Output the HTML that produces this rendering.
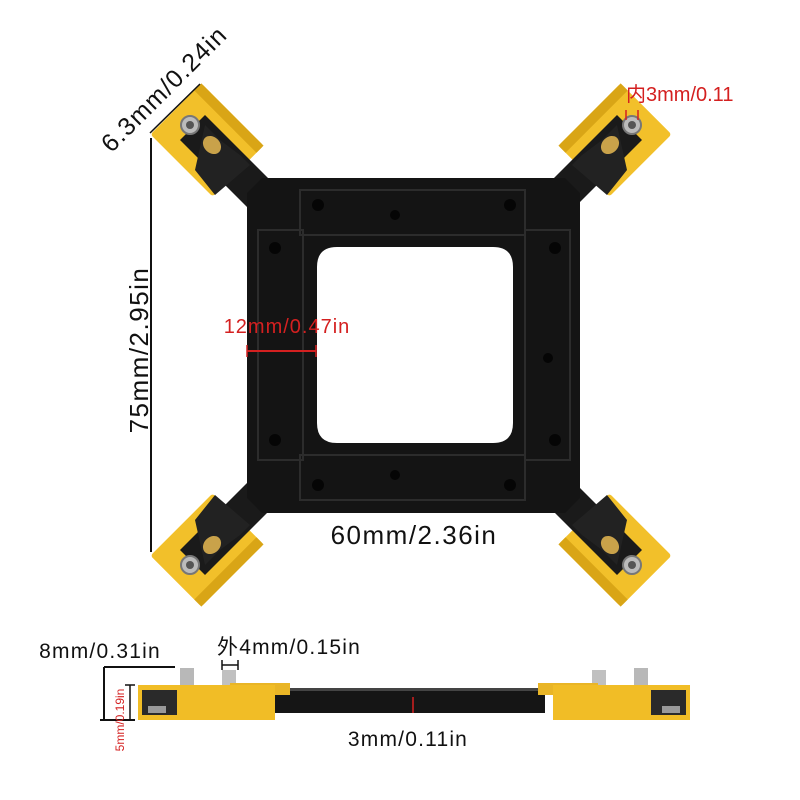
<!DOCTYPE html>
<html><head><meta charset="utf-8"><style>
html,body{margin:0;padding:0;background:#fff;}
svg{display:block}
text{font-family:"Liberation Sans","Noto Sans CJK SC",sans-serif;}
</style></head><body>
<svg width="800" height="800" viewBox="0 0 800 800" xmlns="http://www.w3.org/2000/svg">
<defs>
<g id="corner">
  <rect x="163" y="104" width="88" height="72" rx="3" fill="#f2c02a" transform="rotate(45 207 140)"/>
  <rect x="163" y="104" width="88" height="10" fill="#d9a516" transform="rotate(45 207 140)"/>
  <polygon points="180,140 205,115 290,200 265,225" fill="#1a1a1a"/>
  <polygon points="205,125 220,140 240,155 250,165 215,195 195,170" fill="#222"/>
  <ellipse cx="212" cy="145" rx="10" ry="8" fill="#c9a24a" transform="rotate(45 212 145)"/>
  <circle cx="190" cy="125" r="9" fill="#bbb" stroke="#777" stroke-width="2"/>
  <circle cx="190" cy="125" r="4" fill="#555"/>
</g>
</defs>
<use href="#corner"/>
<use href="#corner" transform="translate(822,0) scale(-1,1)"/>
<use href="#corner" transform="translate(0,690) scale(1,-1)"/>
<use href="#corner" transform="translate(822,690) scale(-1,-1)"/>
<path fill-rule="evenodd" fill="#141414" d="M262,178 L565,178 L580,193 L580,498 L565,513 L262,513 L247,498 L247,193 Z M337,247 L493,247 Q513,247 513,267 L513,423 Q513,443 493,443 L337,443 Q317,443 317,423 L317,267 Q317,247 337,247 Z"/>
<g fill="none" stroke="#2c2c2c" stroke-width="2">
  <rect x="300" y="190" width="225" height="45"/>
  <rect x="300" y="455" width="225" height="45"/>
  <rect x="258" y="230" width="45" height="230"/>
  <rect x="525" y="230" width="45" height="230"/>
</g>
<g fill="#050505">
  <circle cx="318" cy="205" r="6"/><circle cx="395" cy="215" r="5"/><circle cx="510" cy="205" r="6"/>
  <circle cx="275" cy="248" r="6"/><circle cx="555" cy="248" r="6"/>
  <circle cx="275" cy="440" r="6"/><circle cx="555" cy="440" r="6"/>
  <circle cx="318" cy="485" r="6"/><circle cx="395" cy="475" r="5"/><circle cx="510" cy="485" r="6"/>
  <circle cx="548" cy="358" r="5"/>
</g>
<line x1="151" y1="138" x2="151" y2="552" stroke="#111" stroke-width="2"/>
<line x1="150" y1="133" x2="200" y2="84" stroke="#111" stroke-width="1.5"/>
<text x="0" y="0" font-size="26" letter-spacing="1.5" fill="#111" text-anchor="middle" transform="translate(148,350) rotate(-90)">75mm/2.95in</text>
<text x="0" y="0" font-size="25" letter-spacing="1.2" fill="#111" text-anchor="middle" transform="translate(170,95) rotate(-45)">6.3mm/0.24in</text>
<text x="414" y="544" font-size="26" letter-spacing="1.5" fill="#111" text-anchor="middle">60mm/2.36in</text>
<text x="287" y="333" font-size="20" letter-spacing="1" fill="#d42020" text-anchor="middle">12mm/0.47in</text>
<line x1="247" y1="351" x2="316" y2="351" stroke="#d42020" stroke-width="2"/>
<line x1="247" y1="345" x2="247" y2="357" stroke="#d42020" stroke-width="1.5"/>
<line x1="316" y1="345" x2="316" y2="357" stroke="#d42020" stroke-width="1.5"/>
<text x="626" y="101" font-size="20" fill="#d42020">内3mm/0.11</text>
<line x1="626" y1="110" x2="626" y2="120" stroke="#d42020" stroke-width="1.5"/>
<line x1="638" y1="110" x2="638" y2="120" stroke="#d42020" stroke-width="1.5"/>
<rect x="255" y="688" width="290" height="25" fill="#151515"/>
<rect x="255" y="688" width="290" height="3" fill="#444"/>
<g id="sideL">
  <rect x="180" y="668" width="14" height="18" fill="#b8b8b8"/>
  <rect x="222" y="670" width="14" height="16" fill="#c0c0c0"/>
  <rect x="230" y="683" width="60" height="12" fill="#e9b526"/>
  <rect x="138" y="685" width="137" height="35" fill="#f1bd26"/>
  <rect x="142" y="690" width="35" height="25" fill="#2a2a2a"/>
  <rect x="148" y="706" width="18" height="7" fill="#999"/>
</g>
<use href="#sideL" transform="translate(828,0) scale(-1,1)"/>
<line x1="104" y1="667" x2="175" y2="667" stroke="#111" stroke-width="2"/>
<line x1="104" y1="667" x2="104" y2="720" stroke="#111" stroke-width="2"/>
<line x1="100" y1="720" x2="135" y2="720" stroke="#111" stroke-width="2"/>
<line x1="130" y1="685" x2="130" y2="720" stroke="#111" stroke-width="1.5"/>
<line x1="125" y1="685" x2="135" y2="685" stroke="#111" stroke-width="1.5"/>
<text x="100" y="658" font-size="21" letter-spacing="1.2" fill="#111" text-anchor="middle">8mm/0.31in</text>
<text x="289" y="654" font-size="21" letter-spacing="1.2" fill="#111" text-anchor="middle">外4mm/0.15in</text>
<line x1="222" y1="660" x2="222" y2="670" stroke="#111" stroke-width="1.5"/>
<line x1="238" y1="660" x2="238" y2="670" stroke="#111" stroke-width="1.5"/>
<line x1="222" y1="665" x2="238" y2="665" stroke="#111" stroke-width="1.5"/>
<text x="408" y="746" font-size="21" letter-spacing="1.2" fill="#111" text-anchor="middle">3mm/0.11in</text>
<line x1="413" y1="697" x2="413" y2="713" stroke="#d42020" stroke-width="1.5"/>
<text x="0" y="0" font-size="12" fill="#d42020" text-anchor="middle" transform="translate(124,720) rotate(-90)">5mm/0.19in</text>
</svg>
</body></html>
